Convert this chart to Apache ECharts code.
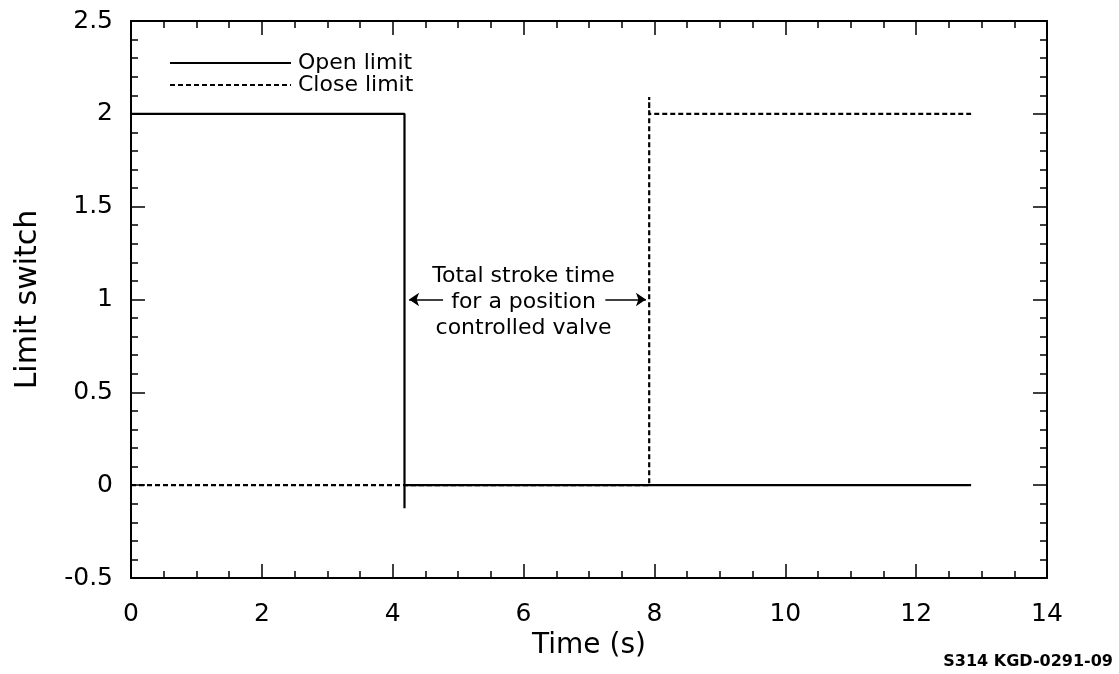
<!DOCTYPE html>
<html>
<head>
<meta charset="utf-8">
<script src="https://cdn.jsdelivr.net/npm/echarts@6/dist/echarts.min.js"></script>
<style>
  html, body { margin: 0; padding: 0; background: #fff; }
  #chart { width: 1119px; height: 674px; }
</style>
</head>
<body>
<div id="chart"></div>
<script>
// Limit switch state traces, [time (s), value]
const openLimit = [[0, 2], [4.18, 2], [4.18, -0.124], [4.18, 0], [12.84, 0]];
const closeLimit = [[0, 0], [7.92, 0], [7.92, 2.09], [7.92, 2], [12.84, 2]];

// Stroke-time annotation: text anchor and the two arrows [from, to]
const noteAnchor = [[6.0, 0.985]];
const noteText = ['Total stroke time', 'for a position', 'controlled valve'];
const arrowLeft = [[4.77, 1.0], [4.25, 1.0]];
const arrowRight = [[7.25, 1.0], [7.87, 1.0]];

const xTicks = [0, 2, 4, 6, 8, 10, 12, 14];
const yTicks = [-0.5, 0, 0.5, 1, 1.5, 2, 2.5];

const FONT = '"DejaVu Sans", "Liberation Sans", Arial, sans-serif';
const INK = '#000';

const chart = echarts.init(document.getElementById('chart'), null, { renderer: 'canvas' });

const frameAxis = (extra) => Object.assign({
  axisLine: { show: true, onZero: false, lineStyle: { color: INK, width: 2 } },
  axisTick: { show: true, inside: true, length: 14, lineStyle: { color: INK, width: 1.5 } },
  splitLine: { show: false },
  minorSplitLine: { show: false }
}, extra);

const minor = (n) => ({ show: true, splitNumber: n, length: 7, lineStyle: { color: INK, width: 1.5 } });

chart.setOption({
  backgroundColor: '#fff',
  animation: false,
  grid: { left: 131, right: 72, top: 21, bottom: 96, containLabel: false },
  legend: {
    orient: 'vertical',
    left: 164,
    top: 47,
    itemWidth: 121,
    itemHeight: 12,
    itemGap: 0,
    selectedMode: false,
    itemStyle: { opacity: 0 },
    data: ['Open limit', 'Close limit'],
    textStyle: { fontFamily: FONT, fontSize: 22, color: INK, padding: [0, 0, 0, 2] }
  },
  xAxis: [
    frameAxis({
      type: 'value', min: xTicks[0], max: xTicks[xTicks.length - 1], interval: 2,
      minorTick: minor(4),
      axisLabel: { color: INK, fontFamily: FONT, fontSize: 25, margin: 24 },
      name: 'Time (s)', nameLocation: 'middle', nameGap: 47,
      nameTextStyle: { color: INK, fontFamily: FONT, fontSize: 28 }
    }),
    frameAxis({
      type: 'value', position: 'top', min: xTicks[0], max: xTicks[xTicks.length - 1], interval: 2,
      minorTick: minor(4),
      axisLabel: { show: false }
    })
  ],
  yAxis: [
    frameAxis({
      type: 'value', min: yTicks[0], max: yTicks[yTicks.length - 1], interval: 0.5,
      minorTick: minor(5),
      axisLabel: { color: INK, fontFamily: FONT, fontSize: 25, margin: 18 },
      name: 'Limit switch', nameLocation: 'middle', nameGap: 88,
      nameTextStyle: { color: INK, fontFamily: FONT, fontSize: 30 }
    }),
    frameAxis({
      type: 'value', position: 'right', min: yTicks[0], max: yTicks[yTicks.length - 1], interval: 0.5,
      minorTick: minor(5),
      axisLabel: { show: false }
    })
  ],
  series: [
    {
      name: 'Close limit',
      type: 'line',
      data: closeLimit,
      showSymbol: false,
      symbol: 'none',
      lineStyle: { color: INK, width: 2.2, type: [5, 3] },
      itemStyle: { color: INK },
      z: 2
    },
    {
      name: 'Open limit',
      type: 'line',
      data: openLimit,
      showSymbol: false,
      symbol: 'none',
      lineStyle: { color: INK, width: 2.2, type: 'solid' },
      itemStyle: { color: INK },
      z: 3,
      markLine: {
        silent: true,
        symbol: ['none', 'arrow'],
        symbolSize: 10,
        label: { show: false },
        itemStyle: { color: INK },
        lineStyle: { color: INK, width: 1.5, type: 'solid' },
        emphasis: { disabled: true },
        data: [
          [{ coord: arrowLeft[0] }, { coord: arrowLeft[1] }],
          [{ coord: arrowRight[0] }, { coord: arrowRight[1] }]
        ]
      }
    },
    {
      name: 'note',
      type: 'scatter',
      data: noteAnchor,
      symbolSize: 0,
      silent: true,
      itemStyle: { opacity: 1, color: INK },
      label: {
        show: true,
        position: 'inside',
        formatter: noteText.join('\n'),
        color: INK,
        opacity: 1,
        textBorderWidth: 0,
        fontFamily: FONT,
        fontSize: 22,
        lineHeight: 26,
        align: 'center',
        verticalAlign: 'middle'
      },
      z: 4
    }
  ],
  graphic: [
    {
      type: 'text',
      right: 6,
      top: 654,
      style: {
        text: 'S314 KGD-0291-09',
        fill: INK,
        font: 'bold 16px "DejaVu Sans", Arial, sans-serif'
      }
    }
  ]
});
</script>
</body>
</html>
